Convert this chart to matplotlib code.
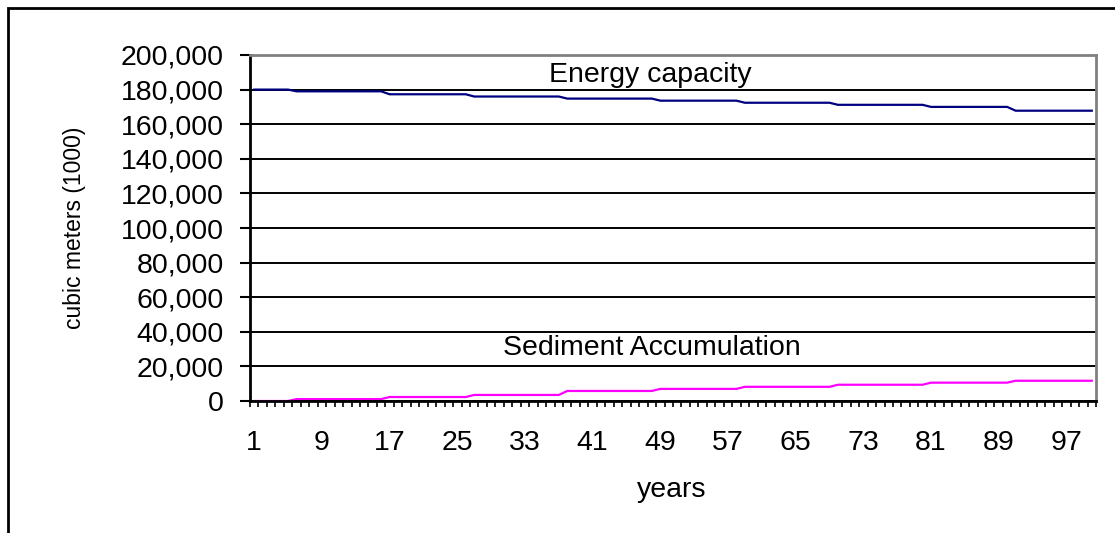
import numpy as np
import matplotlib
matplotlib.use('Agg')
import matplotlib.pyplot as plt
from matplotlib.ticker import FuncFormatter, MultipleLocator
from matplotlib.patches import Rectangle

# values: each level holds for a run of years
years = np.arange(1, 101)
run_lengths = [5, 11, 10, 11, 11, 10, 11, 11, 10, 10]
energy_levels = [180000, 179000, 177300, 176000, 174800, 173600, 172400, 171200, 170000, 167800]
sediment_levels = [0, 1100, 2300, 3500, 5800, 7000, 8200, 9400, 10600, 11700]
x_tick_labels = [1, 9, 17, 25, 33, 41, 49, 57, 65, 73, 81, 89, 97]
y_ticks = [0, 20000, 40000, 60000, 80000, 100000, 120000, 140000, 160000, 180000, 200000]

energy = np.repeat(energy_levels, run_lengths)
sediment = np.repeat(sediment_levels, run_lengths)

plt.rcParams['font.family'] = ['Liberation Sans', 'DejaVu Sans']
fs = 20.5

fig = plt.figure(figsize=(11.15, 5.33), dpi=100)
ax = fig.add_axes([250/1115, 1-401/533, 846/1115, 346/533])

ax.plot(years, energy, color='#000080', lw=1.6)
ax.plot(years, sediment, color='#FF00FF', lw=1.6)

ax.set_xlim(0.5, 100.5)
ax.set_ylim(0, 200000)
ax.set_yticks(y_ticks)
ax.yaxis.set_major_formatter(FuncFormatter(lambda v, p: f'{int(v):,}'))
ax.grid(axis='y', color='black', lw=1.4)
ax.set_axisbelow(True)

ax.set_xticks(x_tick_labels)
ax.set_xticklabels([str(v) for v in x_tick_labels])
ax.xaxis.set_minor_locator(MultipleLocator(1, offset=0.5))
ax.tick_params(axis='x', which='major', length=0, pad=21, labelsize=fs)
ax.tick_params(axis='x', which='minor', length=4.5, width=1.2, direction='out')
ax.tick_params(axis='y', length=7, width=1.5, pad=12, labelsize=fs)

for s in ['left', 'bottom']:
    ax.spines[s].set_color('black')
    ax.spines[s].set_linewidth(2)
for s in ['top', 'right']:
    ax.spines[s].set_color('#808080')
    ax.spines[s].set_linewidth(2)

ax.text(47.8, 188400, 'Energy capacity', ha='center', va='center', fontsize=fs)
ax.text(48.0, 30900, 'Sediment Accumulation', ha='center', va='center', fontsize=fs)

fig.text(672/1115, 1-490/533, 'years', ha='center', va='center', fontsize=fs)
fig.text(75/1115, 1-228/533, 'cubic meters (1000)', ha='center', va='center',
         rotation=90, fontsize=16.5)

# outer chart border (only top and left edges fall inside the image)
fig.add_artist(Rectangle((8/1115, -0.2), 1.5, 1-8/533+0.2, transform=fig.transFigure,
                         fill=False, edgecolor='black', lw=2))

fig.savefig('out.png', dpi=100)
